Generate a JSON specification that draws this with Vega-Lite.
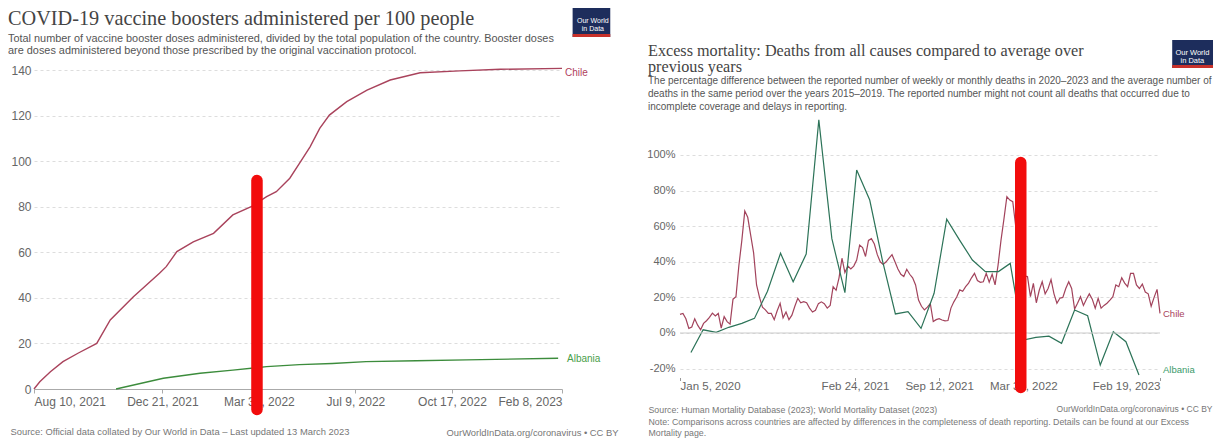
{
"$schema":"https://vega.github.io/schema/vega-lite/v6.json",
"padding":{"left":8,"top":8,"right":0,"bottom":0},
"spacing":118,
"bounds":"flush",
"resolve":{"scale":{"color":"independent"}},
"config":{"view":{"stroke":null},"font":"Liberation Sans"},
"datasets":{
"boosters":[
{"country":"Chile","date":"2021-08-10","value":0},
{"country":"Chile","date":"2021-08-16","value":3.2},
{"country":"Chile","date":"2021-08-27","value":7.6},
{"country":"Chile","date":"2021-09-09","value":12.0},
{"country":"Chile","date":"2021-09-25","value":15.8},
{"country":"Chile","date":"2021-10-14","value":20.0},
{"country":"Chile","date":"2021-10-28","value":30.3},
{"country":"Chile","date":"2021-11-21","value":40.5},
{"country":"Chile","date":"2021-12-18","value":50.8},
{"country":"Chile","date":"2021-12-25","value":53.7},
{"country":"Chile","date":"2022-01-05","value":60.3},
{"country":"Chile","date":"2022-01-22","value":64.6},
{"country":"Chile","date":"2022-02-12","value":68.3},
{"country":"Chile","date":"2022-03-04","value":76.4},
{"country":"Chile","date":"2022-03-23","value":80.0},
{"country":"Chile","date":"2022-04-08","value":84.4},
{"country":"Chile","date":"2022-04-18","value":86.6},
{"country":"Chile","date":"2022-05-02","value":92.5},
{"country":"Chile","date":"2022-05-12","value":99.0},
{"country":"Chile","date":"2022-05-23","value":106.3},
{"country":"Chile","date":"2022-06-02","value":114.4},
{"country":"Chile","date":"2022-06-12","value":120.2},
{"country":"Chile","date":"2022-06-30","value":126.1},
{"country":"Chile","date":"2022-07-21","value":131.2},
{"country":"Chile","date":"2022-08-14","value":135.6},
{"country":"Chile","date":"2022-09-14","value":138.8},
{"country":"Chile","date":"2022-10-25","value":139.6},
{"country":"Chile","date":"2022-12-06","value":140.3},
{"country":"Chile","date":"2023-02-08","value":140.7},
{"country":"Albania","date":"2021-11-03","value":0},
{"country":"Albania","date":"2021-12-22","value":4.7},
{"country":"Albania","date":"2022-01-29","value":6.9},
{"country":"Albania","date":"2022-03-04","value":8.3},
{"country":"Albania","date":"2022-04-08","value":9.8},
{"country":"Albania","date":"2022-05-12","value":10.7},
{"country":"Albania","date":"2022-06-15","value":11.2},
{"country":"Albania","date":"2022-07-20","value":12.0},
{"country":"Albania","date":"2022-09-10","value":12.4},
{"country":"Albania","date":"2022-11-01","value":12.8},
{"country":"Albania","date":"2023-02-04","value":13.5}
],
"excess":[
{"country":"Chile","date":"2020-01-05","value":10.5},
{"country":"Chile","date":"2020-01-12","value":11},
{"country":"Chile","date":"2020-01-19","value":8},
{"country":"Chile","date":"2020-01-26","value":2.6},
{"country":"Chile","date":"2020-02-02","value":3.4},
{"country":"Chile","date":"2020-02-09","value":8},
{"country":"Chile","date":"2020-02-16","value":4.4},
{"country":"Chile","date":"2020-02-23","value":1.8},
{"country":"Chile","date":"2020-03-01","value":5.4},
{"country":"Chile","date":"2020-03-08","value":6.9},
{"country":"Chile","date":"2020-03-15","value":8.8},
{"country":"Chile","date":"2020-03-22","value":11.2},
{"country":"Chile","date":"2020-03-29","value":9.6},
{"country":"Chile","date":"2020-04-05","value":11},
{"country":"Chile","date":"2020-04-12","value":2.8},
{"country":"Chile","date":"2020-04-19","value":9.2},
{"country":"Chile","date":"2020-04-26","value":6.4},
{"country":"Chile","date":"2020-05-03","value":5},
{"country":"Chile","date":"2020-05-10","value":19},
{"country":"Chile","date":"2020-05-17","value":20.4},
{"country":"Chile","date":"2020-05-24","value":38},
{"country":"Chile","date":"2020-05-31","value":52},
{"country":"Chile","date":"2020-06-07","value":68.5},
{"country":"Chile","date":"2020-06-14","value":65},
{"country":"Chile","date":"2020-06-21","value":55},
{"country":"Chile","date":"2020-06-28","value":45},
{"country":"Chile","date":"2020-07-05","value":27},
{"country":"Chile","date":"2020-07-12","value":20},
{"country":"Chile","date":"2020-07-19","value":14.5},
{"country":"Chile","date":"2020-07-26","value":13},
{"country":"Chile","date":"2020-08-02","value":11},
{"country":"Chile","date":"2020-08-09","value":11},
{"country":"Chile","date":"2020-08-16","value":7.5},
{"country":"Chile","date":"2020-08-23","value":12.5},
{"country":"Chile","date":"2020-08-30","value":16.7},
{"country":"Chile","date":"2020-09-06","value":8.5},
{"country":"Chile","date":"2020-09-13","value":11.8},
{"country":"Chile","date":"2020-09-20","value":7.5},
{"country":"Chile","date":"2020-09-27","value":10},
{"country":"Chile","date":"2020-10-04","value":15},
{"country":"Chile","date":"2020-10-11","value":19.5},
{"country":"Chile","date":"2020-10-18","value":17},
{"country":"Chile","date":"2020-10-25","value":17.6},
{"country":"Chile","date":"2020-11-01","value":17},
{"country":"Chile","date":"2020-11-08","value":14},
{"country":"Chile","date":"2020-11-15","value":11.8},
{"country":"Chile","date":"2020-11-22","value":12.8},
{"country":"Chile","date":"2020-11-29","value":16.5},
{"country":"Chile","date":"2020-12-06","value":17.5},
{"country":"Chile","date":"2020-12-13","value":16.5},
{"country":"Chile","date":"2020-12-20","value":14},
{"country":"Chile","date":"2020-12-27","value":15.5},
{"country":"Chile","date":"2021-01-03","value":26},
{"country":"Chile","date":"2021-01-10","value":24},
{"country":"Chile","date":"2021-01-17","value":31},
{"country":"Chile","date":"2021-01-24","value":42},
{"country":"Chile","date":"2021-01-31","value":34},
{"country":"Chile","date":"2021-02-07","value":37.6},
{"country":"Chile","date":"2021-02-14","value":36},
{"country":"Chile","date":"2021-02-21","value":37.6},
{"country":"Chile","date":"2021-02-28","value":41},
{"country":"Chile","date":"2021-03-07","value":49.4},
{"country":"Chile","date":"2021-03-14","value":48},
{"country":"Chile","date":"2021-03-21","value":43},
{"country":"Chile","date":"2021-03-28","value":52},
{"country":"Chile","date":"2021-04-04","value":53},
{"country":"Chile","date":"2021-04-11","value":50},
{"country":"Chile","date":"2021-04-18","value":44},
{"country":"Chile","date":"2021-04-25","value":40},
{"country":"Chile","date":"2021-05-02","value":38.5},
{"country":"Chile","date":"2021-05-09","value":40},
{"country":"Chile","date":"2021-05-16","value":42},
{"country":"Chile","date":"2021-05-23","value":44},
{"country":"Chile","date":"2021-05-30","value":40},
{"country":"Chile","date":"2021-06-06","value":36},
{"country":"Chile","date":"2021-06-13","value":33},
{"country":"Chile","date":"2021-06-20","value":31.7},
{"country":"Chile","date":"2021-06-27","value":35.8},
{"country":"Chile","date":"2021-07-04","value":33},
{"country":"Chile","date":"2021-07-11","value":31},
{"country":"Chile","date":"2021-07-18","value":27},
{"country":"Chile","date":"2021-07-25","value":18.5},
{"country":"Chile","date":"2021-08-01","value":15},
{"country":"Chile","date":"2021-08-08","value":13},
{"country":"Chile","date":"2021-08-15","value":14.5},
{"country":"Chile","date":"2021-08-22","value":16.5},
{"country":"Chile","date":"2021-08-29","value":6.4},
{"country":"Chile","date":"2021-09-05","value":7.5},
{"country":"Chile","date":"2021-09-12","value":8},
{"country":"Chile","date":"2021-09-19","value":7.3},
{"country":"Chile","date":"2021-09-26","value":6.8},
{"country":"Chile","date":"2021-10-03","value":7},
{"country":"Chile","date":"2021-10-10","value":14},
{"country":"Chile","date":"2021-10-17","value":17.5},
{"country":"Chile","date":"2021-10-24","value":20.4},
{"country":"Chile","date":"2021-10-31","value":24.2},
{"country":"Chile","date":"2021-11-07","value":23.4},
{"country":"Chile","date":"2021-11-14","value":26},
{"country":"Chile","date":"2021-11-21","value":28},
{"country":"Chile","date":"2021-11-28","value":31},
{"country":"Chile","date":"2021-12-05","value":33.5},
{"country":"Chile","date":"2021-12-12","value":29.5},
{"country":"Chile","date":"2021-12-19","value":28.5},
{"country":"Chile","date":"2021-12-26","value":28.8},
{"country":"Chile","date":"2022-01-02","value":33.5},
{"country":"Chile","date":"2022-01-09","value":28.5},
{"country":"Chile","date":"2022-01-16","value":33},
{"country":"Chile","date":"2022-01-23","value":27},
{"country":"Chile","date":"2022-01-30","value":38},
{"country":"Chile","date":"2022-02-06","value":52},
{"country":"Chile","date":"2022-02-13","value":64},
{"country":"Chile","date":"2022-02-20","value":76.6},
{"country":"Chile","date":"2022-02-27","value":74.7},
{"country":"Chile","date":"2022-03-06","value":73.8},
{"country":"Chile","date":"2022-03-13","value":60},
{"country":"Chile","date":"2022-03-20","value":45},
{"country":"Chile","date":"2022-03-27","value":35},
{"country":"Chile","date":"2022-04-03","value":32},
{"country":"Chile","date":"2022-04-10","value":31.7},
{"country":"Chile","date":"2022-04-17","value":20.4},
{"country":"Chile","date":"2022-04-24","value":27.9},
{"country":"Chile","date":"2022-05-01","value":17},
{"country":"Chile","date":"2022-05-08","value":24},
{"country":"Chile","date":"2022-05-15","value":28.8},
{"country":"Chile","date":"2022-05-22","value":22},
{"country":"Chile","date":"2022-05-29","value":25},
{"country":"Chile","date":"2022-06-05","value":30},
{"country":"Chile","date":"2022-06-12","value":22},
{"country":"Chile","date":"2022-06-19","value":16.7},
{"country":"Chile","date":"2022-06-26","value":19.5},
{"country":"Chile","date":"2022-07-03","value":20},
{"country":"Chile","date":"2022-07-10","value":25},
{"country":"Chile","date":"2022-07-17","value":28.8},
{"country":"Chile","date":"2022-07-24","value":25},
{"country":"Chile","date":"2022-07-31","value":13.5},
{"country":"Chile","date":"2022-08-07","value":16.7},
{"country":"Chile","date":"2022-08-14","value":20.4},
{"country":"Chile","date":"2022-08-21","value":15.5},
{"country":"Chile","date":"2022-08-28","value":19},
{"country":"Chile","date":"2022-09-04","value":22},
{"country":"Chile","date":"2022-09-11","value":19},
{"country":"Chile","date":"2022-09-18","value":13.9},
{"country":"Chile","date":"2022-09-25","value":19.5},
{"country":"Chile","date":"2022-10-02","value":14},
{"country":"Chile","date":"2022-10-09","value":15.5},
{"country":"Chile","date":"2022-10-16","value":16.7},
{"country":"Chile","date":"2022-10-23","value":18.5},
{"country":"Chile","date":"2022-10-30","value":20.4},
{"country":"Chile","date":"2022-11-06","value":27},
{"country":"Chile","date":"2022-11-13","value":26},
{"country":"Chile","date":"2022-11-20","value":31},
{"country":"Chile","date":"2022-11-27","value":28},
{"country":"Chile","date":"2022-12-04","value":26},
{"country":"Chile","date":"2022-12-11","value":33.5},
{"country":"Chile","date":"2022-12-18","value":33.5},
{"country":"Chile","date":"2022-12-25","value":27},
{"country":"Chile","date":"2023-01-01","value":25},
{"country":"Chile","date":"2023-01-08","value":27.5},
{"country":"Chile","date":"2023-01-15","value":23},
{"country":"Chile","date":"2023-01-22","value":22},
{"country":"Chile","date":"2023-01-29","value":15},
{"country":"Chile","date":"2023-02-05","value":20},
{"country":"Chile","date":"2023-02-12","value":24.5},
{"country":"Chile","date":"2023-02-19","value":11},
{"country":"Albania","date":"2020-01-31","value":-11},
{"country":"Albania","date":"2020-02-29","value":1.8},
{"country":"Albania","date":"2020-03-31","value":0.4},
{"country":"Albania","date":"2020-04-30","value":3.2},
{"country":"Albania","date":"2020-05-31","value":5.4},
{"country":"Albania","date":"2020-06-30","value":8.2},
{"country":"Albania","date":"2020-07-31","value":23.5},
{"country":"Albania","date":"2020-08-31","value":44.8},
{"country":"Albania","date":"2020-09-30","value":28.8},
{"country":"Albania","date":"2020-10-31","value":44.4},
{"country":"Albania","date":"2020-11-30","value":119.7},
{"country":"Albania","date":"2020-12-31","value":53},
{"country":"Albania","date":"2021-01-31","value":22.7},
{"country":"Albania","date":"2021-02-28","value":91.6},
{"country":"Albania","date":"2021-03-31","value":74.7},
{"country":"Albania","date":"2021-04-30","value":41},
{"country":"Albania","date":"2021-05-31","value":10.7},
{"country":"Albania","date":"2021-06-30","value":12},
{"country":"Albania","date":"2021-07-31","value":2.6},
{"country":"Albania","date":"2021-08-31","value":22.3},
{"country":"Albania","date":"2021-09-30","value":63.9},
{"country":"Albania","date":"2021-10-31","value":52},
{"country":"Albania","date":"2021-11-30","value":41},
{"country":"Albania","date":"2021-12-31","value":34.5},
{"country":"Albania","date":"2022-01-31","value":34.5},
{"country":"Albania","date":"2022-02-28","value":39.1},
{"country":"Albania","date":"2022-03-31","value":-4},
{"country":"Albania","date":"2022-04-30","value":-2.5},
{"country":"Albania","date":"2022-05-31","value":-1.8},
{"country":"Albania","date":"2022-06-30","value":-5.8},
{"country":"Albania","date":"2022-07-31","value":12.9},
{"country":"Albania","date":"2022-08-31","value":9.7},
{"country":"Albania","date":"2022-09-30","value":-18},
{"country":"Albania","date":"2022-10-31","value":0.7},
{"country":"Albania","date":"2022-11-30","value":-4.9},
{"country":"Albania","date":"2022-12-31","value":-23.6}
]
},
"hconcat":[
{
"width":528,"height":319,
"title":{"text":"COVID-19 vaccine boosters administered per 100 people","subtitle":["Total number of vaccine booster doses administered, divided by the total population of the country. Booster doses","are doses administered beyond those prescribed by the original vaccination protocol."],"anchor":"start","frame":"group","dx":-26,"offset":-48,"font":"Liberation Serif","fontSize":20.3,"fontWeight":"normal","color":"#444444","subtitleFont":"Liberation Sans","subtitleFontSize":10.9,"subtitleColor":"#555555","subtitleLineHeight":12,"subtitlePadding":4},
"layer":[
{"data":{"name":"boosters"},"mark":{"type":"line","strokeWidth":1.4},
"encoding":{
"x":{"field":"date","type":"temporal","scale":{"type":"utc","domain":[{"year":2021,"month":8,"date":10,"utc":true},{"year":2023,"month":2,"date":8,"utc":true}]},
"axis":{"values":[{"year":2021,"month":8,"date":10,"utc":true},{"year":2021,"month":12,"date":21,"utc":true},{"year":2022,"month":3,"date":31,"utc":true},{"year":2022,"month":7,"date":9,"utc":true},{"year":2022,"month":10,"date":17,"utc":true},{"year":2023,"month":2,"date":8,"utc":true}],"labelExpr":"utcFormat(datum.value, '%b %-d, %Y')","labelFlush":true,"labelOverlap":false,"grid":false,"domain":true,"domainColor":"#aaaaaa","ticks":true,"tickColor":"#aaaaaa","tickSize":4,"labelPadding":3,"labelFontSize":12,"labelColor":"#666666",
"title":"Source: Official data collated by Our World in Data – Last updated 13 March 2023","titleX":-24,"titleY":42,"titleAlign":"left","titleBaseline":"middle","titleFontSize":9.4,"titleFontWeight":"normal","titleColor":"#777777"}},
"y":{"field":"value","type":"quantitative","scale":{"domain":[0,140],"nice":false,"zero":false},
"axis":{"values":[0,20,40,60,80,100,120,140],"grid":true,"gridDash":[3,3],"gridColor":"#dddddd","domain":false,"ticks":false,"labelPadding":3,"labelFontSize":12,"labelColor":"#666666",
"title":"OurWorldInData.org/coronavirus • CC BY","titleAngle":0,"titleX":584,"titleY":362,"titleAlign":"right","titleBaseline":"middle","titleFontSize":9.4,"titleFontWeight":"normal","titleColor":"#777777"}},
"color":{"field":"country","type":"nominal","scale":{"domain":["Chile","Albania"],"range":["#a9435c","#3c8c3c"]},"legend":null}
}},
{"data":{"name":"boosters"},
"transform":[{"filter":"datum.country == 'Chile'"},{"window":[{"op":"row_number","as":"rn"}],"sort":[{"field":"date","order":"descending"}]},{"filter":"datum.rn == 1"}],
"mark":{"type":"text","align":"left","baseline":"middle","dx":3,"dy":5,"fontSize":10,"color":"#b0405c"},
"encoding":{"x":{"datum":{"year":2023,"month":2,"date":8,"utc":true},"type":"temporal"},"y":{"field":"value","type":"quantitative"},"text":{"field":"country"}}},
{"data":{"name":"boosters"},
"transform":[{"filter":"datum.country == 'Albania'"},{"window":[{"op":"row_number","as":"rn"}],"sort":[{"field":"date","order":"descending"}]},{"filter":"datum.rn == 1"}],
"mark":{"type":"text","align":"left","baseline":"middle","dx":5,"dy":1,"fontSize":10,"color":"#4a9e4a"},
"encoding":{"x":{"datum":{"year":2023,"month":2,"date":8,"utc":true},"type":"temporal"},"y":{"field":"value","type":"quantitative"},"text":{"field":"country"}}},
{"data":{"values":[{}]},"mark":{"type":"rect","color":"#1d2d5c"},
"encoding":{"x":{"datum":{"year":2023,"month":2,"date":19,"utc":true},"type":"temporal"},"x2":{"datum":{"year":2023,"month":3,"date":30,"utc":true}},"y":{"datum":167.2,"type":"quantitative"},"y2":{"datum":154.5}}},
{"data":{"values":[{}]},"mark":{"type":"rect","color":"#c8312a"},
"encoding":{"x":{"datum":{"year":2023,"month":2,"date":19,"utc":true},"type":"temporal"},"x2":{"datum":{"year":2023,"month":3,"date":30,"utc":true}},"y":{"datum":155.8,"type":"quantitative"},"y2":{"datum":154.5}}},
{"data":{"values":[{}]},"mark":{"type":"text","color":"white","fontSize":7,"lineHeight":8,"align":"center","baseline":"middle"},
"encoding":{"x":{"datum":{"year":2023,"month":3,"date":12,"utc":true},"type":"temporal"},"y":{"datum":161.5,"type":"quantitative"},"text":{"value":["Our World","in Data"]}}},
{"data":{"values":[{}]},"mark":{"type":"rule","color":"#f20c0c","strokeWidth":11.5,"strokeCap":"round"},
"encoding":{"x":{"datum":{"year":2022,"month":3,"date":29,"utc":true},"type":"temporal"},"y":{"datum":91.5,"type":"quantitative"},"y2":{"datum":-9}}}
]
},
{
"width":480,"height":307.5,
"title":{"text":["Excess mortality: Deaths from all causes compared to average over","previous years"],"subtitle":["The percentage difference between the reported number of weekly or monthly deaths in 2020–2023 and the average number of","deaths in the same period over the years 2015–2019. The reported number might not count all deaths that occurred due to","incomplete coverage and delays in reporting."],"anchor":"start","frame":"group","dx":-32,"offset":-72,"font":"Liberation Serif","fontSize":16.2,"lineHeight":16,"fontWeight":"normal","color":"#444444","subtitleFont":"Liberation Sans","subtitleFontSize":10,"subtitleColor":"#555555","subtitleLineHeight":13,"subtitlePadding":1},
"layer":[
{"data":{"name":"excess"},"mark":{"type":"line","strokeWidth":1.2},
"encoding":{
"x":{"field":"date","type":"temporal","scale":{"type":"utc","domain":[{"year":2020,"month":1,"date":5,"utc":true},{"year":2023,"month":2,"date":19,"utc":true}]},
"axis":{"values":[{"year":2020,"month":1,"date":5,"utc":true},{"year":2021,"month":2,"date":24,"utc":true},{"year":2021,"month":9,"date":12,"utc":true},{"year":2022,"month":3,"date":31,"utc":true},{"year":2023,"month":2,"date":19,"utc":true}],"labelExpr":"utcFormat(datum.value, '%b %-d, %Y')","labelFlush":true,"labelOverlap":false,"grid":false,"domain":false,"ticks":true,"tickColor":"#999999","tickSize":3,"labelPadding":0,"labelFontSize":11.5,"labelColor":"#666666",
"title":["Source: Human Mortality Database (2023); World Mortality Dataset (2023)","Note: Comparisons across countries are affected by differences in the completeness of death reporting. Details can be found at our Excess","Mortality page."],"titleX":-32,"titleY":28,"titleAlign":"left","titleBaseline":"top","titleLineHeight":11.5,"titleFontSize":8.8,"titleFontWeight":"normal","titleColor":"#777777"}},
"y":{"field":"value","type":"quantitative","scale":{"domain":[-25,147.75],"nice":false,"zero":false},
"axis":{"values":[-20,0,20,40,60,80,100],"labelExpr":"datum.value + '%'","grid":true,"gridDash":[3,3],"gridColor":"#dddddd","domain":false,"ticks":false,"labelPadding":5,"labelFontSize":11,"labelColor":"#666666",
"title":"OurWorldInData.org/coronavirus • CC BY","titleAngle":0,"titleX":532,"titleY":338,"titleAlign":"right","titleBaseline":"middle","titleFontSize":8.5,"titleFontWeight":"normal","titleColor":"#777777"}},
"color":{"field":"country","type":"nominal","scale":{"domain":["Chile","Albania"],"range":["#a2435c","#2c7358"]},"legend":null}
}},
{"data":{"values":[{}]},"mark":{"type":"rule","color":"#cccccc","strokeWidth":1},
"encoding":{"y":{"datum":0,"type":"quantitative"}}},
{"data":{"name":"excess"},
"transform":[{"filter":"datum.country == 'Chile'"},{"window":[{"op":"row_number","as":"rn"}],"sort":[{"field":"date","order":"descending"}]},{"filter":"datum.rn == 1"}],
"mark":{"type":"text","align":"left","baseline":"middle","dx":3,"dy":1,"fontSize":9.5,"color":"#a9435c"},
"encoding":{"x":{"datum":{"year":2023,"month":2,"date":19,"utc":true},"type":"temporal"},"y":{"field":"value","type":"quantitative"},"text":{"field":"country"}}},
{"data":{"name":"excess"},
"transform":[{"filter":"datum.country == 'Albania'"},{"window":[{"op":"row_number","as":"rn"}],"sort":[{"field":"date","order":"descending"}]},{"filter":"datum.rn == 1"}],
"mark":{"type":"text","align":"left","baseline":"middle","dx":3,"dy":-5,"fontSize":9.5,"color":"#3a9a6a"},
"encoding":{"x":{"datum":{"year":2023,"month":2,"date":19,"utc":true},"type":"temporal"},"y":{"field":"value","type":"quantitative"},"text":{"field":"country"}}},
{"data":{"values":[{}]},"mark":{"type":"rect","color":"#1d2d5c"},
"encoding":{"x":{"datum":{"year":2023,"month":3,"date":20,"utc":true},"type":"temporal"},"x2":{"datum":{"year":2023,"month":6,"date":25,"utc":true}},"y":{"datum":164.6,"type":"quantitative"},"y2":{"datum":148.9}}},
{"data":{"values":[{}]},"mark":{"type":"rect","color":"#c8312a"},
"encoding":{"x":{"datum":{"year":2023,"month":3,"date":20,"utc":true},"type":"temporal"},"x2":{"datum":{"year":2023,"month":6,"date":25,"utc":true}},"y":{"datum":150.6,"type":"quantitative"},"y2":{"datum":148.9}}},
{"data":{"values":[{}]},"mark":{"type":"text","color":"white","fontSize":7.5,"lineHeight":8.5,"align":"center","baseline":"middle"},
"encoding":{"x":{"datum":{"year":2023,"month":5,"date":7,"utc":true},"type":"temporal"},"y":{"datum":157.5,"type":"quantitative"},"text":{"value":["Our World","in Data"]}}},
{"data":{"values":[{}]},"mark":{"type":"rule","color":"#f20c0c","strokeWidth":11.5,"strokeCap":"round"},
"encoding":{"x":{"datum":{"year":2022,"month":3,"date":25,"utc":true},"type":"temporal"},"y":{"datum":95.8,"type":"quantitative"},"y2":{"datum":-30.6}}}
]
}
]
}
